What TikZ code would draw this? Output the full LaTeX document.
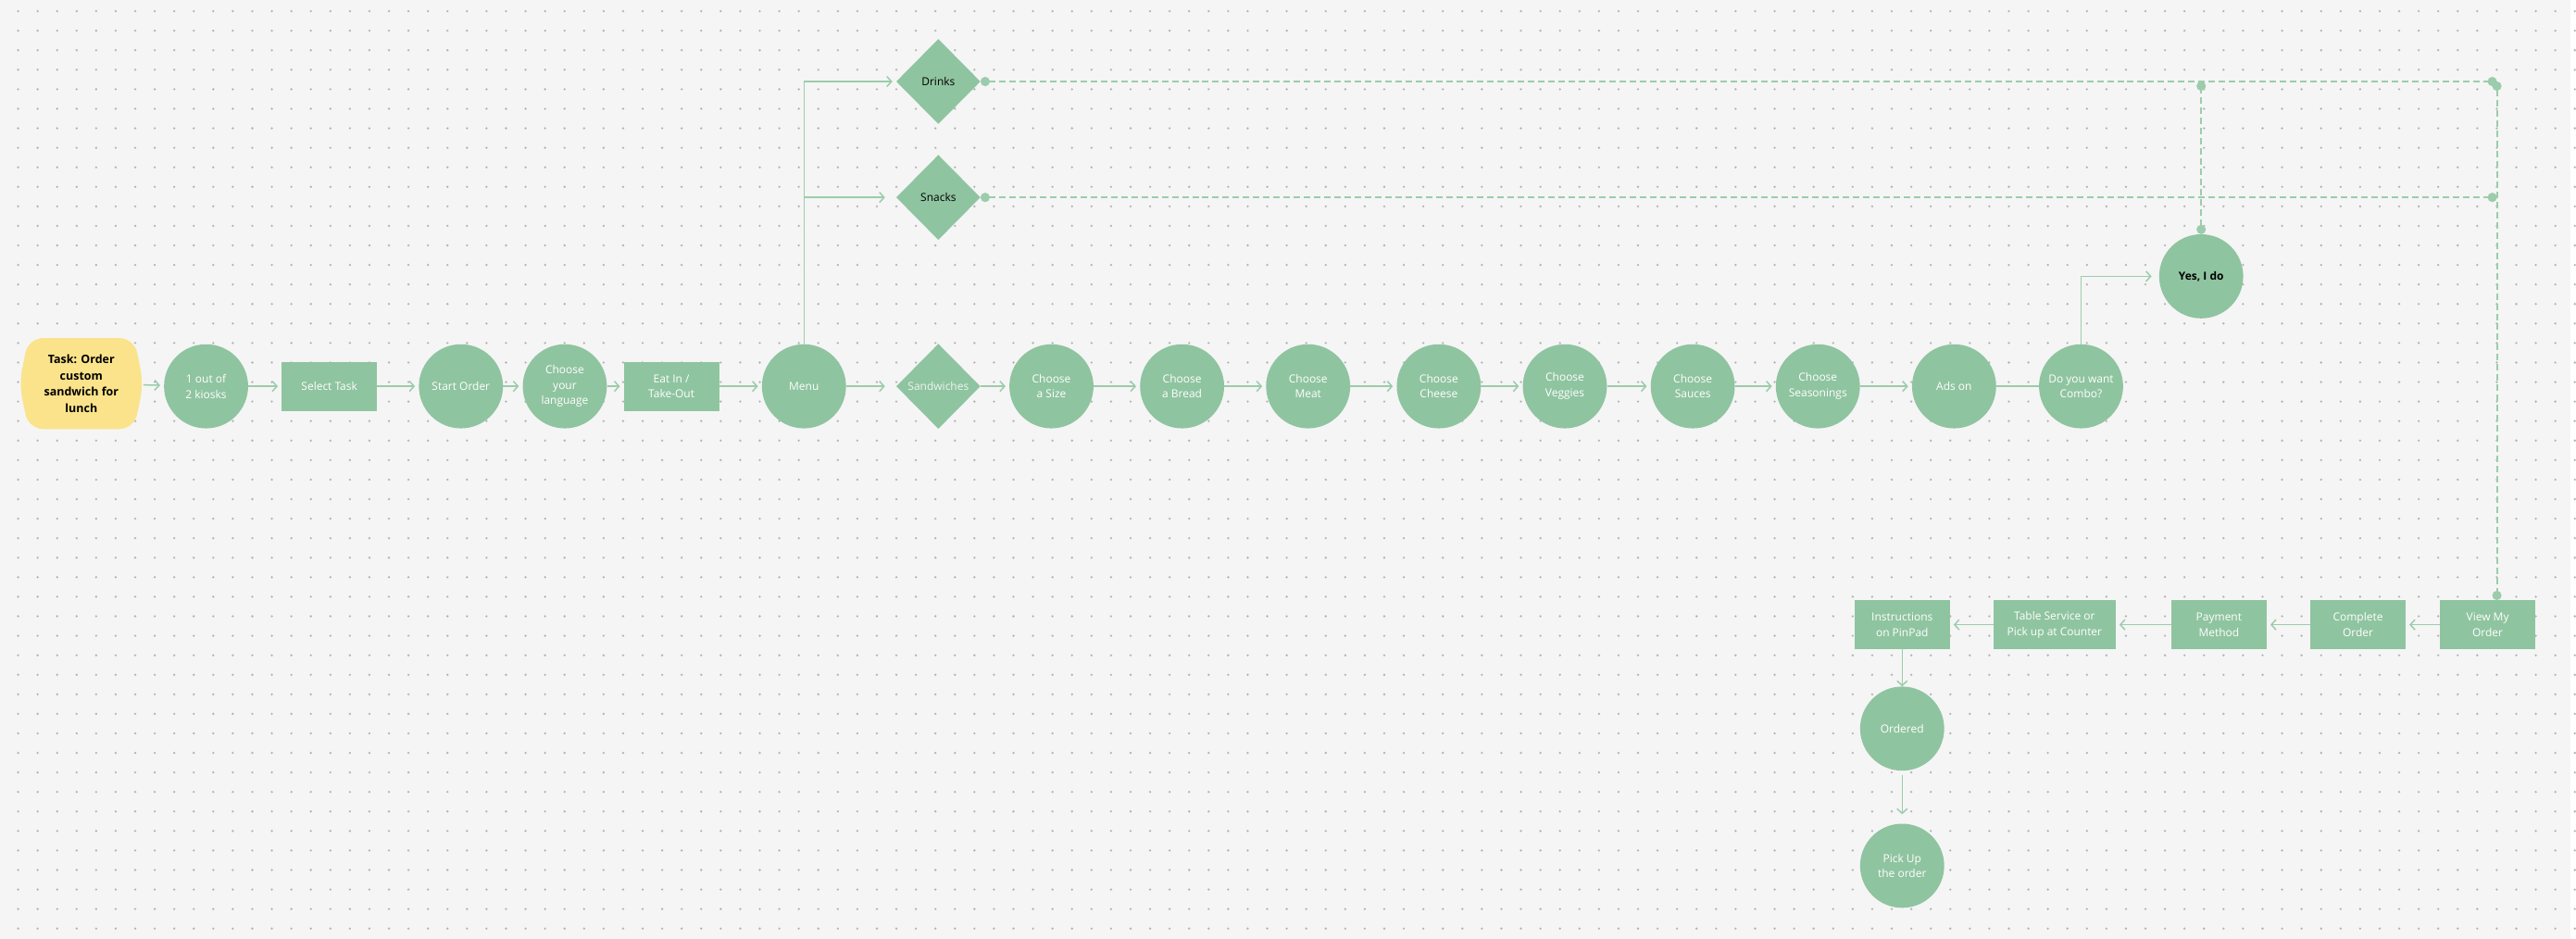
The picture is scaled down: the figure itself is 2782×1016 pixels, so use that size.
\documentclass[tikz,border=0pt]{standalone}
\usepackage{fontspec}
\setmainfont{Open Sans}
\usetikzlibrary{positioning}
\usetikzlibrary{arrows.meta}
\usetikzlibrary{shapes.geometric}

\definecolor{stepgreen}{HTML}{8FC4A0}
\definecolor{linkgreen}{HTML}{9CCCAB}
\definecolor{taskyellow}{HTML}{FAE38A}
\definecolor{paper}{HTML}{F5F5F5}
\definecolor{griddot}{HTML}{B4B4B4}

\pgfdeclarelayer{grid}
\pgfdeclarelayer{behind}
\pgfsetlayers{grid,behind,main}

\begin{document}
\begin{tikzpicture}[x=1pt,y=-1pt,
  circ/.style={circle,fill=stepgreen,text=white,minimum size=91pt,inner sep=0pt,align=center,font=\labfont},
  box/.style={rectangle,fill=stepgreen,text=white,minimum width=103pt,minimum height=53pt,inner sep=2pt,align=center,font=\labfont},
  choice/.style={diamond,fill=stepgreen,minimum width=91pt,minimum height=92pt,inner sep=0pt,align=center,font=\labfont},
  link/.style={draw=linkgreen,line width=1.5pt,-{Straight Barb[length=5pt,width=11pt]},shorten >=4pt},
  plainlink/.style={draw=linkgreen,line width=1.5pt},
  dashlink/.style={draw=linkgreen,line width=2pt,dash pattern=on 7pt off 4pt,{Circle[length=10pt]}-{Circle[length=10pt]}}]

\def\labfont{\fontsize{12pt}{16.7pt}\selectfont}
\def\taskfont{\bfseries\fontsize{12.5pt}{17.7pt}\selectfont}

% dotted board
\begin{pgfonlayer}{grid}
\fill[paper] (0,0) rectangle (2782,1016);
\foreach \i in {0,...,131}
  \foreach \j in {0,...,47}
    \fill[griddot] (19.6+21.12*\i,12.1+21.12*\j) circle (1.3pt);
\end{pgfonlayer}
\useasboundingbox (0,0) rectangle (2782,1016);

% main row
\node[font=\taskfont,align=center,minimum width=134pt,minimum height=98pt,inner sep=0pt](task) at (88,415){Task: Order\\custom\\sandwich for\\lunch};
\node[circ](kiosk) at (223,418){1 out of\\2 kiosks};
\node[box,right=36pt of kiosk](select){Select Task};
\node[circ,right=45pt of select](start){Start Order};
\node[circ,right=21pt of start](lang){Choose\\your\\language};
\node[box,right=18pt of lang](eatin){Eat In /\\Take-Out};
\node[circ,right=46pt of eatin](menu){Menu};
\node[choice,text=white,text opacity=.85,right=54pt of menu](sandw){Sandwiches};
\node[circ,right=31pt of sandw](size){Choose\\a Size};
\node[circ,right=50pt of size](bread){Choose\\a Bread};
\node[circ,right=45pt of bread](meat){Choose\\Meat};
\node[circ,right=50pt of meat](cheese){Choose\\Cheese};
\node[circ,right=45pt of cheese](veggies){Choose\\Veggies};
\node[circ,right=47pt of veggies](sauces){Choose\\Sauces};
\node[circ,right=44pt of sauces](season){Choose\\Seasonings};
\node[circ,right=56pt of season](addon){Ads on};
\node[circ,right=46pt of addon](combo){Do you want\\Combo?};
\node[circ,text=black,font=\bfseries\labfont](yes) at (2382,299){Yes, I do};

% other menu choices
\node[choice,above=112pt of sandw](snacks){Snacks};
\node[choice,above=33pt of snacks](drinks){Drinks};

% checkout row
\node[box](view) at (2692,676){View My\\Order};
\node[box,left=37pt of view](complete){Complete\\Order};
\node[box,left=47pt of complete](payment){Payment\\Method};
\node[box,minimum width=132pt,left=60pt of payment](table){Table Service or\\Pick up at Counter};
\node[box,left=47pt of table](instr){Instructions\\on PinPad};
\node[circ,below=40pt of instr](ordered){Ordered};
\node[circ,below=57pt of ordered](pickup){Pick Up\\the order};

\begin{pgfonlayer}{behind}
\fill[taskyellow,rounded corners=16pt] ([xshift=10pt]task.north west) -- ([xshift=-10pt]task.north east) -- (task.east)
  -- ([xshift=-10pt]task.south east) -- ([xshift=10pt]task.south west) -- (task.west) -- cycle;
\end{pgfonlayer}

\draw[link] (task) -- (kiosk);
\draw[link] (kiosk) -- (select);
\draw[link] (select) -- (start);
\draw[link] (start) -- (lang);
\draw[link] (lang) -- (eatin);
\draw[link] (eatin) -- (menu);
\draw[link,shorten >=12pt] (menu) -- (sandw);
\draw[link] (sandw) -- (size);
\draw[link] (size) -- (bread);
\draw[link] (bread) -- (meat);
\draw[link] (meat) -- (cheese);
\draw[link] (cheese) -- (veggies);
\draw[link] (veggies) -- (sauces);
\draw[link] (sauces) -- (season);
\draw[link] (season) -- (addon);
\draw[plainlink] (addon) -- (combo);
\draw[link,shorten >=8pt] (combo.north) |- (yes.west);

\draw[link] (menu.north) |- (drinks.west);
\draw[link,shorten >=12pt] (menu.north |- snacks.west) -- (snacks.west);

% dashed returns to the order
\path (drinks.east -| view.north) ++(10pt,0) coordinate (turn);
\draw[dashlink] (drinks.east) -- (turn);
\draw[dashlink] (turn) -- (turn |- view.north);
\draw[dashlink] (snacks.east) -- (snacks.east -| turn);
\draw[dashlink] (yes.north) -- (yes.north |- drinks.east);

\draw[link] (view) -- (complete);
\draw[link] (complete) -- (payment);
\draw[link] (payment) -- (table);
\draw[link] (table) -- (instr);
\draw[link,shorten >=0pt] (instr) -- (ordered);
\draw[link,shorten <=5pt,shorten >=10pt] (ordered) -- (pickup);
\end{tikzpicture}
\end{document}
